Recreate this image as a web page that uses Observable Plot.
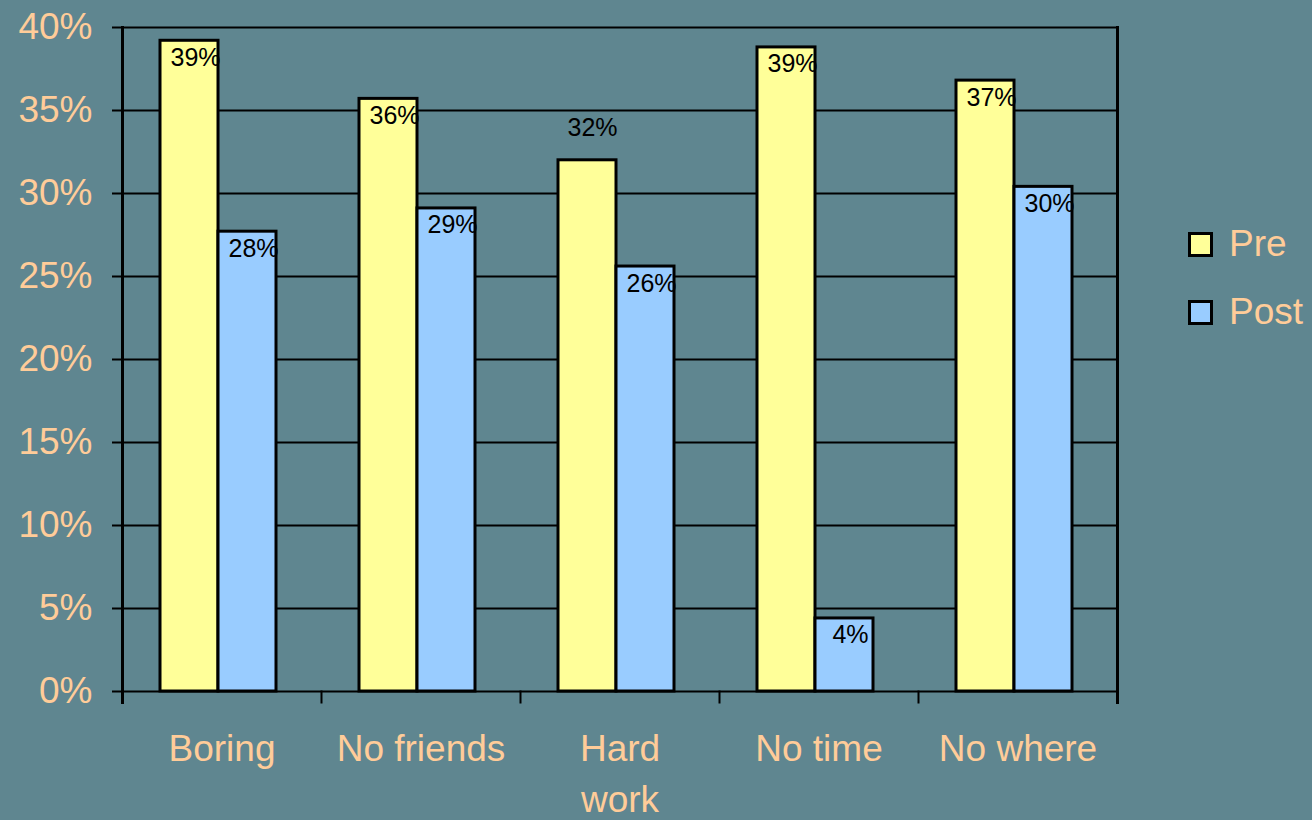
<!DOCTYPE html>
<html><head><meta charset="utf-8">
<script src="https://cdn.jsdelivr.net/npm/d3@7"></script>
<script src="https://cdn.jsdelivr.net/npm/@observablehq/plot@0.6"></script>
<style>
html,body{margin:0;padding:0;background:#5f8690;}
#wrap{position:relative;width:1312px;height:820px;overflow:hidden;font-family:"Liberation Sans",Arial,sans-serif;}
#wrap svg{display:block;}
.legend{position:absolute;left:1188px;top:210px;color:#ffcc99;font-size:37px;}
.legend .row{display:flex;align-items:center;height:68px;}
.legend .sw{width:19px;height:19px;border:3px solid #000;margin-right:16px;}
</style></head><body><div id="wrap"></div>
<script>
const categories = ["Boring", "No friends", "Hard work", "No time", "No where"];
const categoryLabels = ["Boring", "No friends", "Hard\nwork", "No time", "No where"];
const series = ["Pre", "Post"];
const preValues = [0.392, 0.357, 0.320, 0.388, 0.368];
const postValues = [0.277, 0.291, 0.256, 0.044, 0.304];
const seriesColors = ["#ffff99", "#99ccff"];
const yTicks = [0, 0.05, 0.10, 0.15, 0.20, 0.25, 0.30, 0.35, 0.40];
const labelsAbove = ["Hard work|Pre"];

const data = categories.flatMap((c, i) => [
  {category: c, series: "Pre", value: preValues[i]},
  {category: c, series: "Post", value: postValues[i]}
]);
const labelOf = new Map(categories.map((c, i) => [c, categoryLabels[i]]));
const fmt = d3.format(".0%");
const isAbove = d => labelsAbove.includes(d.category + "|" + d.series);
const peach = "#ffcc99";

const chart = Plot.plot({
  width: 1312, height: 820,
  marginLeft: 120, marginRight: 194, marginTop: 27, marginBottom: 129,
  style: {background: "transparent", fontFamily: "'Liberation Sans', Arial, sans-serif", overflow: "visible"},
  fx: {domain: categories, padding: 0, label: null, axis: null},
  x: {domain: series, paddingInner: 0, paddingOuter: 0.7, align: 0.46, axis: null},
  y: {domain: [0, 0.4], axis: null},
  color: {domain: series, range: seriesColors},
  marks: [
    Plot.ruleY(yTicks, {stroke: "#000", strokeWidth: 2}),
    Plot.frame({anchor: "left", insetTop: 664, insetBottom: -11, stroke: "#000", strokeWidth: 2}),
    Plot.frame({anchor: "left", facetAnchor: "left", insetBottom: -11, stroke: "#000", strokeWidth: 3}),
    Plot.frame({anchor: "right", facetAnchor: "right", insetBottom: -11, stroke: "#000", strokeWidth: 3}),
    Plot.barY(data, {fx: "category", x: "series", y: "value", fill: "series", stroke: "#000", strokeWidth: 3}),
    Plot.text(data.filter(d => !isAbove(d)), {fx: "category", x: "series", y: "value", text: d => fmt(d.value), dx: 6, dy: 17, fontSize: 25, fill: "#000"}),
    Plot.text(data.filter(isAbove), {fx: "category", x: "series", y: "value", text: d => fmt(d.value), dx: 5, dy: -32, fontSize: 25, fill: "#000"}),
    Plot.axisY(yTicks, {anchor: "left", tickFormat: fmt, tickSize: 10, tickPadding: 20, fontSize: 37, fill: peach, stroke: "#000", strokeWidth: 2, label: null}),
    Plot.axisFx({anchor: "bottom", tickSize: 0, tickPadding: 34, fontSize: 37, fill: peach, lineHeight: 1.36, tickFormat: c => labelOf.get(c), label: null})
  ]
});
const wrap = document.getElementById("wrap");
wrap.appendChild(chart);

const legend = document.createElement("div");
legend.className = "legend";
series.forEach((s, i) => {
  const row = document.createElement("div");
  row.className = "row";
  const sw = document.createElement("span");
  sw.className = "sw";
  sw.style.background = seriesColors[i];
  const t = document.createElement("span");
  t.textContent = s;
  row.appendChild(sw);
  row.appendChild(t);
  legend.appendChild(row);
});
wrap.appendChild(legend);
</script>
</body></html>
